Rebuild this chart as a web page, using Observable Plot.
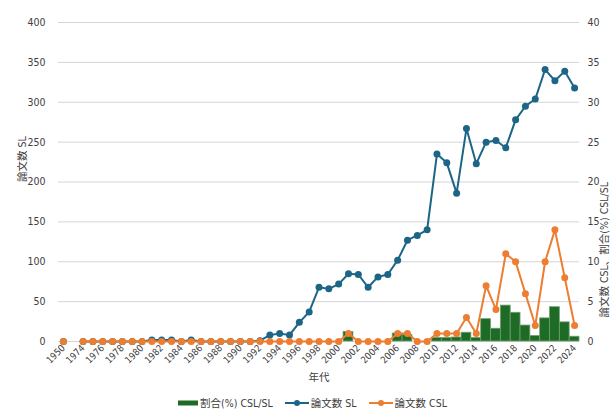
<!DOCTYPE html>
<html>
<head>
<meta charset="utf-8">
<script src="https://cdn.jsdelivr.net/npm/d3@7"></script>
<script src="https://cdn.jsdelivr.net/npm/@observablehq/plot@0.6"></script>
<style>
  body { margin: 0; background: #fff; }
  #wrap { width: 613px; height: 412px; position: relative; font-family: "Liberation Sans Narrow", "DejaVu Sans Condensed", "Noto Sans CJK JP", sans-serif; color: #404040; }
  #chart { height: 394px; overflow: hidden; }
  #legend { width: 613px; height: 18px; font-size: 10.5px; line-height: 14px; display: flex; justify-content: center; align-items: center; padding-left: 12px; box-sizing: border-box; }
  .item { display: flex; align-items: center; white-space: nowrap; margin: 0 6px; }
  .item svg { margin-right: 2px; }
</style>
</head>
<body>
<div id="wrap"><div id="chart"></div><div id="legend"></div></div>
<script>
// Categories (index 1 is an empty category in the source chart)
const years = ["1950", " ", "1974", "1975", "1976", "1977", "1978", "1979", "1980", "1981", "1982", "1983", "1984", "1985", "1986", "1987", "1988", "1989", "1990", "1991", "1992", "1993", "1994", "1995", "1996", "1997", "1998", "1999", "2000", "2001", "2002", "2003", "2004", "2005", "2006", "2007", "2008", "2009", "2010", "2011", "2012", "2013", "2014", "2015", "2016", "2017", "2018", "2019", "2020", "2021", "2022", "2023", "2024"];
// Tick labels shown on the x axis
const tickLabels = ["1950", "1974", "1976", "1978", "1980", "1982", "1984", "1986", "1988", "1990", "1992", "1994", "1996", "1998", "2000", "2002", "2004", "2006", "2008", "2010", "2012", "2014", "2016", "2018", "2020", "2022", "2024"];
// 論文数 SL (left axis)
const sl = [0, null, 0, 0, 0, 0, 0, 0, 0, 2, 2, 2, 0, 2, 0, 0, 0, 0, 0, 0, 1, 8, 10, 8, 24, 37, 68, 66, 72, 85, 84, 68, 81, 84, 102, 127, 133, 140, 235, 224, 186, 267, 223, 250, 252, 243, 278, 295, 304, 341, 327, 339, 318];
// 論文数 CSL (right axis)
const csl = [0, null, 0, 0, 0, 0, 0, 0, 0, 0, 0, 0, 0, 0, 0, 0, 0, 0, 0, 0, 0, 0, 0, 0, 0, 0, 0, 0, 0, 1, 0, 0, 0, 0, 1, 1, 0, 0, 1, 1, 1, 3, 1, 7, 4, 11, 10, 6, 2, 10, 14, 8, 2];
// 割合(%) CSL/SL (right axis)
const ratio = [0, null, 0, 0, 0, 0, 0, 0, 0, 0, 0, 0, 0, 0, 0, 0, 0, 0, 0, 0, 0, 0, 0, 0, 0, 0, 0, 0, 0, 1.2, 0, 0, 0, 0, 1.0, 0.8, 0, 0, 0.45, 0.45, 0.5, 1.1, 0.45, 2.8, 1.6, 4.5, 3.6, 2.0, 0.7, 2.9, 4.3, 2.4, 0.6];
// Axis ticks
const leftTicks = [0, 50, 100, 150, 200, 250, 300, 350, 400];
const rightTicks = [0, 5, 10, 15, 20, 25, 30, 35, 40];

const labelLeft = "論文数 SL";
const labelRight = "論文数 CSL、割合(%) CSL/SL";
const labelX = "年代";
const legendLabels = ["割合(%) CSL/SL", "論文数 SL", "論文数 CSL"];

const colors = {bar: "#1e6b25", barStroke: "#6e9f72", sl: "#1d6587", csl: "#ed7d31"};

const rows = years.map((y, i) => ({year: y, sl: sl[i], csl: csl[i], ratio: ratio[i]}));
const k = leftTicks[leftTicks.length - 1] / rightTicks[rightTicks.length - 1]; // right-axis values on the left scale

const font = '"Liberation Sans Narrow", "DejaVu Sans Condensed", "Noto Sans CJK JP", sans-serif';
const chart = Plot.plot({
  width: 613,
  height: 394,
  marginLeft: 58,
  marginRight: 34,
  marginTop: 22,
  marginBottom: 53,
  style: {fontFamily: font, fontSize: "11px", color: "#404040", background: "#fff"},
  x: {type: "band", domain: years, padding: 0},
  y: {domain: [0, 400]},
  marks: [
    Plot.gridY(leftTicks, {stroke: "#d4d4d4", strokeOpacity: 1}),
    Plot.barY(rows.filter(d => d.ratio != null), {x: "year", y: d => d.ratio * k, fill: colors.bar, stroke: colors.barStroke, strokeWidth: 0.8}),
    Plot.line(rows, {x: "year", y: d => d.sl, stroke: colors.sl, strokeWidth: 2}),
    Plot.dot(rows, {x: "year", y: d => d.sl, fill: colors.sl, r: 3.5}),
    Plot.line(rows, {x: "year", y: d => d.csl == null ? NaN : d.csl * k, stroke: colors.csl, strokeWidth: 2}),
    Plot.dot(rows, {x: "year", y: d => d.csl == null ? NaN : d.csl * k, fill: colors.csl, r: 3.5}),
    Plot.axisY({anchor: "left", ticks: leftTicks, tickSize: 0, tickPadding: 13, label: null, fill: "#404040", fontSize: 10.5}),
    Plot.axisY({anchor: "right", ticks: leftTicks, tickSize: 0, tickPadding: 8, tickFormat: d => d / k, label: null, fill: "#404040", fontSize: 10.5}),
    Plot.axisX({ticks: tickLabels, tickRotate: -45, tickSize: 0, tickPadding: 5, label: null, fill: "#404040", fontSize: 9.5}),
    Plot.text([labelLeft], {frameAnchor: "left", dx: -36, rotate: -90, fill: "#404040", fontSize: 10.5}),
    Plot.text([labelRight], {frameAnchor: "right", dx: 25, rotate: -90, fill: "#404040", fontSize: 10.5}),
    Plot.text([labelX], {frameAnchor: "bottom", dy: 39, fill: "#404040", fontSize: 10.5})
  ]
});
document.getElementById("chart").appendChild(chart);

// Legend
const legend = document.getElementById("legend");
const items = [
  {label: legendLabels[0], kind: "bar", color: colors.bar},
  {label: legendLabels[1], kind: "line", color: colors.sl},
  {label: legendLabels[2], kind: "line", color: colors.csl}
];
for (const it of items) {
  const div = document.createElement("div");
  div.className = "item";
  const sw = it.kind === "bar"
    ? `<svg width="20" height="8"><rect x="0" y="1.5" width="20" height="5" fill="${it.color}"/></svg>`
    : `<svg width="24" height="8"><line x1="0" x2="24" y1="4" y2="4" stroke="${it.color}" stroke-width="2"/><circle cx="12" cy="4" r="3" fill="${it.color}"/></svg>`;
  div.innerHTML = sw + `<span>${it.label}</span>`;
  legend.appendChild(div);
}
</script>
</body>
</html>
